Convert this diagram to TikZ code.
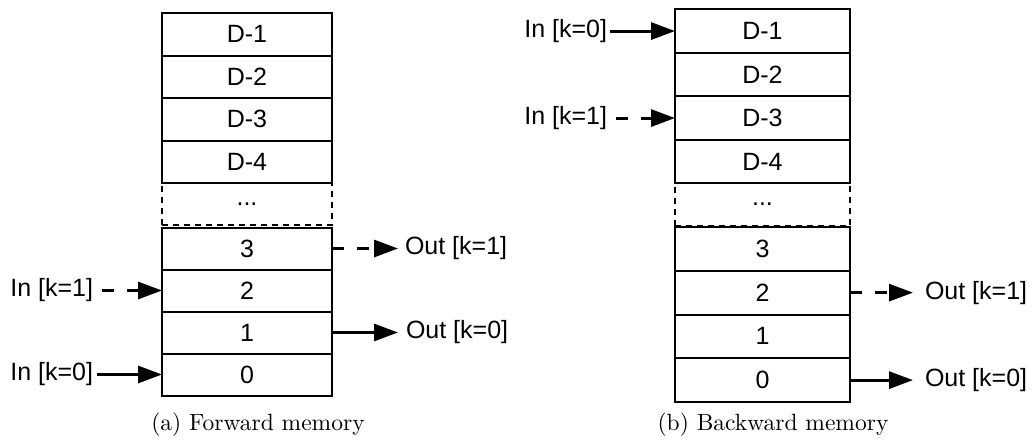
\documentclass[tikz,border=0pt]{standalone}
\usepackage{fontspec}
\newfontfamily\labfont{Liberation Sans}
\usetikzlibrary{arrows.meta}
\begin{document}
\begin{tikzpicture}[x=1pt,y=-1pt,
  txt/.style={font={\labfont\fontsize{25}{29}\selectfont}},
  cell/.style={txt, draw, line width=2pt, inner sep=0pt, outer sep=0pt},
  cellL/.style={cell, minimum width=170pt},
  cellR/.style={cell, minimum width=175pt},
  gapcell/.style={draw, line width=2pt, dash pattern=on 6pt off 5pt, inner sep=0pt, outer sep=0pt, txt},
  lab/.style={txt, inner ysep=0pt, outer sep=0pt},
  flow/.style={line width=3pt, -{Triangle[length=24pt,width=17pt]}},
  flowdash/.style={flow, dash pattern=on 12pt off 13pt},
  captext/.style={inner sep=0pt, outer sep=0pt}]
\useasboundingbox (0,0) rectangle (1033,445);

% ---------- forward memory ----------
\node[gapcell, minimum width=170pt, minimum height=42pt] (Lg) at (247,204) {...};
\node[cellL, minimum height=42.5pt] (L9) at (247,34.25)  {D-1};
\node[cellL, minimum height=42.5pt] (L8) at (247,76.75)  {D-2};
\node[cellL, minimum height=42.5pt] (L7) at (247,119.25) {D-3};
\node[cellL, minimum height=42.5pt] (L6) at (247,161.75) {D-4};
\node[cellL, minimum height=42pt] (L3) at (247,248.5) {3};
\node[cellL, minimum height=42pt] (L2) at (247,290.5) {2};
\node[cellL, minimum height=42pt] (L1) at (247,332.5) {1};
\node[cellL, minimum height=42pt] (L0) at (247,374.5) {0};

\node[lab, anchor=east, inner xsep=9pt] (inL1) at (102,290.5) {In [k=1]};
\node[lab, anchor=east, inner xsep=4pt] (inL0) at (97,374.5) {In [k=0]};
\node[lab, anchor=west, inner xsep=7pt] (outL1) at (398,248.5) {Out [k=1]};
\node[lab, anchor=west, inner xsep=8pt] (outL0) at (398,332.5) {Out [k=0]};

\draw[flowdash] (inL1.east) -- (L2.west);
\draw[flow] (inL0.east) -- (L0.west);
\draw[flowdash] (L3.east) -- (outL1.west);
\draw[flow] (L1.east) -- (outL0.west);

\node[captext] (capL) at (258,425) {\scalebox{2.35}{(a) Forward memory}};

% ---------- backward memory ----------
\node[gapcell, minimum width=175pt, minimum height=42.7pt] (Rg) at (762.5,204.65) {...};
\node[cellR, minimum height=43.5pt] (R9) at (762.5,31.05)  {D-1};
\node[cellR, minimum height=43.5pt] (R8) at (762.5,74.55)  {D-2};
\node[cellR, minimum height=43.5pt] (R7) at (762.5,118.05) {D-3};
\node[cellR, minimum height=43.5pt] (R6) at (762.5,161.55) {D-4};
\node[cellR, minimum height=43.75pt] (R3) at (762.5,248.875) {3};
\node[cellR, minimum height=43.75pt] (R2) at (762.5,292.625) {2};
\node[cellR, minimum height=43.75pt] (R1) at (762.5,336.375) {1};
\node[cellR, minimum height=43.75pt] (R0) at (762.5,380.125) {0};

\node[lab, anchor=east, inner xsep=3pt] (inR0) at (610,31.05) {In [k=0]};
\node[lab, anchor=east, inner xsep=9pt] (inR1) at (616,118.05) {In [k=1]};
\node[lab, anchor=west, inner xsep=12pt] (outR1) at (913,292.625) {Out [k=1]};
\node[lab, anchor=west, inner xsep=12pt] (outR0) at (913,380.125) {Out [k=0]};

\draw[flow] (inR0.east) -- (R9.west);
\draw[flowdash] (inR1.east) -- (R7.west);
\draw[flowdash] (R2.east) -- (outR1.west);
\draw[flow] (R0.east) -- (outR0.west);

\node[captext] (capR) at (773,425) {\scalebox{2.35}{(b) Backward memory}};
\end{tikzpicture}
\end{document}
